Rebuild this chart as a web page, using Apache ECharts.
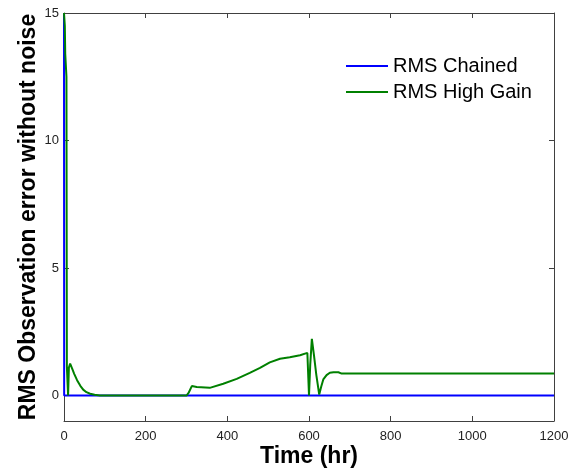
<!DOCTYPE html>
<html>
<head>
<meta charset="utf-8">
<script src="https://cdn.jsdelivr.net/npm/echarts@6/dist/echarts.min.js"></script>
<style>html,body{margin:0;padding:0;background:#fff;overflow:hidden;}#chart{width:574px;height:471px;}</style>
</head>
<body>
<div id="chart"></div>
<script>
// ---- Data ----
const chainedTime = [0, 0.4, 1200];
const chainedRms  = [15, 0, 0];

const highGainTime = [0, 2, 3, 6, 7, 9, 10, 12, 15, 20, 25, 32, 40, 47, 55, 64, 75, 88,
  300, 305, 313, 325, 357, 390, 423, 455, 480, 504, 529, 553, 578, 596,
  600, 603, 607, 612, 618, 625, 630, 635, 643, 651, 660, 672, 680, 1200];
const highGainRms = [15, 14.5, 13.4, 12.5, 1.15, 1.1, 0, 1.1, 1.25, 1.05, 0.85, 0.6, 0.38, 0.23, 0.13, 0.07, 0.03, 0,
  0, 0.1, 0.37, 0.33, 0.30, 0.46, 0.65, 0.89, 1.08, 1.30, 1.44, 1.50, 1.58, 1.67,
  0, 1.2, 2.22, 1.6, 0.8, 0.04, 0.35, 0.63, 0.8, 0.89, 0.91, 0.91, 0.86, 0.86];

const xTicks = [0, 200, 400, 600, 800, 1000, 1200];
const yTicks = [0, 5, 10, 15];
const seriesNames = ['RMS Chained', 'RMS High Gain'];
const xName = 'Time (hr)';
const yName = 'RMS Observation error without noise';

// ---- Build ----
const zip = (a, b) => a.map((v, i) => [v, b[i]]);
const font = 'Arial, "Liberation Sans", sans-serif';
const frame = '#404040';
const plain = v => String(v);

const chart = echarts.init(document.getElementById('chart'));
chart.setOption({
  animation: false,
  backgroundColor: '#ffffff',
  grid: { left: 64, right: 20, top: 13, bottom: 50, containLabel: false, outerBoundsMode: 'none' },
  legend: {
    orient: 'vertical', left: 346, top: 56, padding: 0,
    icon: 'rect', itemWidth: 42, itemHeight: 2, itemGap: 6,
    textStyle: { fontFamily: font, fontSize: 20, color: '#000' },
    data: seriesNames
  },
  xAxis: [
    {
      type: 'value', position: 'bottom', min: xTicks[0], max: xTicks[xTicks.length - 1], interval: 200,
      axisLine: { show: true, onZero: false, lineStyle: { color: frame, width: 1 } },
      axisTick: { show: true, inside: true, length: 5, lineStyle: { color: frame } },
      axisLabel: { fontFamily: font, fontSize: 13, color: '#222', margin: 9, formatter: plain },
      splitLine: { show: false },
      name: xName, nameLocation: 'middle', nameGap: 24, nameMoveOverlap: false,
      nameTextStyle: { fontFamily: font, fontSize: 23, fontWeight: 'bold', color: '#000' }
    },
    {
      type: 'value', position: 'top', min: xTicks[0], max: xTicks[xTicks.length - 1], interval: 200,
      axisLine: { show: true, onZero: false, lineStyle: { color: frame, width: 1 } },
      axisTick: { show: true, inside: true, length: 5, lineStyle: { color: frame } },
      axisLabel: { show: false }, splitLine: { show: false }
    }
  ],
  yAxis: [
    {
      type: 'value', position: 'left', min: -1, max: 15,
      axisLine: { show: true, onZero: false, lineStyle: { color: frame, width: 1 } },
      axisTick: { show: true, inside: true, length: 5, customValues: yTicks, lineStyle: { color: frame } },
      axisLabel: { fontFamily: font, fontSize: 13, color: '#222', margin: 5, customValues: yTicks, formatter: plain },
      splitLine: { show: false },
      name: yName, nameLocation: 'middle', nameGap: 24, nameRotate: 90, nameMoveOverlap: false,
      nameTextStyle: { fontFamily: font, fontSize: 23, fontWeight: 'bold', color: '#000' }
    },
    {
      type: 'value', position: 'right', min: -1, max: 15,
      axisLine: { show: true, onZero: false, lineStyle: { color: frame, width: 1 } },
      axisTick: { show: true, inside: true, length: 5, customValues: yTicks, lineStyle: { color: frame } },
      axisLabel: { show: false, customValues: yTicks }, splitLine: { show: false }
    }
  ],
  series: [
    {
      name: seriesNames[0], type: 'line', xAxisIndex: 0, yAxisIndex: 0,
      data: zip(chainedTime, chainedRms), showSymbol: false, symbol: 'none',
      lineStyle: { color: '#0000ff', width: 2 }, itemStyle: { color: '#0000ff' }, z: 2
    },
    {
      name: seriesNames[1], type: 'line', xAxisIndex: 0, yAxisIndex: 0,
      data: zip(highGainTime, highGainRms), showSymbol: false, symbol: 'none',
      lineStyle: { color: '#008000', width: 2 }, itemStyle: { color: '#008000' }, z: 3
    }
  ]
});
</script>
</body>
</html>
